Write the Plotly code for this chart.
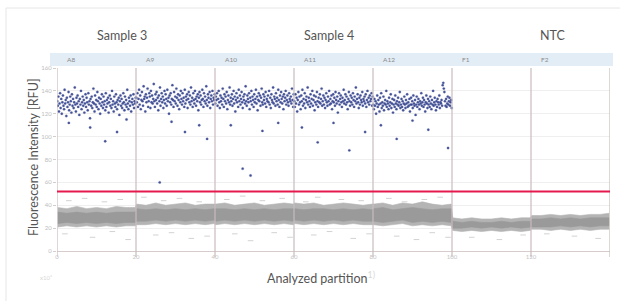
import plotly.graph_objects as go

# ---------------- data ----------------
wells = ["A8", "A9", "A10", "A11", "A12", "F1", "F2"]
well_size = 20                      # partitions (x1000) per well
x_ticks = [0, 20, 40, 60, 80, 100, 120]
x_ticklabels = ["0", "20", "40", "60", "80", "100", "120"]
y_ticks = [0, 20, 40, 60, 80, 100, 120, 140, 160]
groups = ["Sample 3", "Sample 4", "NTC"]
threshold = 52

pos_A8 = "131 127 135 122 129 138 125 133 120 130 136 127 124 141 129 132 118 134 126 130 139 123 128 135 131 121 137 127 133 125 130 143 128 122 134 129 136 126 131 119 133 128 140 124 130 135 127 132 121 129 137 126 134 130 123 138 128 131 116 133 127 135 125 130 142 129 122 136 128 132 126 139 131 124 134 129 120 133 127 137 130 125 135 128 131 123 138 126 132 129 134 121 130 136 127 133 125 140 128 131 122 135 129 126 137 130 124 132 128 134 119 131 136 127 133 125 129 138 130 123 135 128 132 126 141 129 124 134 131 127 136 122 130 133 128 137 125 131 129 134"
pos_A9 = "134 130 138 126 133 141 128 136 124 132 139 131 127 144 133 135 122 137 130 134 142 126 131 138 135 125 140 130 136 129 133 146 131 126 137 132 139 129 134 123 136 131 143 127 133 138 130 135 125 132 140 129 137 133 127 141 131 134 120 136 130 138 128 133 145 132 126 139 131 135 129 142 134 127 137 132 124 136 130 140 133 128 138 131 134 126 141 129 135 132 137 125 133 139 130 136 128 143 131 134 126 138 132 129 140 133 127 135 131 137 123 134 139 130 136 128 132 141 133 126 138 131 135 129 144 132 127 137 134 130 139 125 133 136 131 140 128 134 132 137"
pos_A10 = "129 135 132 138 127 133 140 130 125 136 131 134 128 142 133 126 137 131 135 129 139 124 132 136 130 143 128 134 131 137 127 133 140 129 135 122 132 138 130 134 126 141 131 136 128 133 139 130 125 135 132 137 129 144 131 127 136 133 130 138 124 134 131 140 128 135 132 126 137 130 133 141 129 135 123 132 138 131 136 127 134 142 130 128 137 132 135 129 139 126 133 131 136 130 140 128 134 125 137 132 130 143 129 135 133 127 138 131 134 128 141 132 126 136 130 139 133 129 135 124 137 131 134 140 128 132 136 130 127 138 133 131 135 129 142 132 126 137"
pos_A11 = "131 126 137 129 134 122 132 139 128 135 130 124 136 131 141 127 133 129 138 125 132 135 130 143 128 134 131 126 137 129 133 140 127 132 136 123 130 135 128 139 131 126 134 130 137 129 133 142 127 131 136 128 134 125 132 138 130 127 135 131 140 128 133 129 136 124 131 137 130 134 127 139 132 129 135 121 131 138 128 133 136 130 126 134 131 141 129 132 137 128 135 130 124 133 139 131 127 136 130 134 128 138 132 126 135 131 143 129 133 137 130 125 134 128 136 132 130 139 127 133 131 135 129 137 126 132 140 130 134 128 136 131 133 138 127 135"
pos_A12 = "128 124 133 127 131 120 129 136 126 132 128 122 134 129 138 125 130 127 135 123 129 132 128 140 126 131 129 124 134 127 130 137 125 129 133 121 128 132 126 136 129 124 131 128 134 127 130 139 125 128 133 126 131 123 129 135 128 125 132 129 137 126 130 127 133 122 128 134 128 131 125 136 129 127 132 119 128 135 126 130 133 128 124 131 129 138 127 130 134 126 132 128 122 130 136 129 125 133 128 131 126 135 129 124 132 128 140 127 130 134 128 123 131 126 133 130 128 136 125 130 129 132 127 145 147 142 139 131 127 133 126 129 135 128 131 134 127 130 132 125"
positives = [pos_A8, pos_A9, pos_A10, pos_A11, pos_A12, "", ""]

rain_x = [3, 8.4, 12.2, 15.2, 17.6, 26, 29, 32.4, 36, 38, 44, 47, 49, 52, 56, 62, 66, 70, 74, 78, 82, 86, 90, 94, 99]
rain_y = [112, 108, 96, 104, 115, 60, 113, 104, 110, 98, 110, 72, 66, 105, 112, 108, 95, 112, 88, 104, 110, 98, 114, 106, 90]

band_frac = [0.2, 2.5, 5, 7.5, 10, 12.5, 15, 17.5, 19.8]
outer_hi = [[38, 37, 39, 37, 38, 37, 39, 38, 38], [41, 40, 42, 40, 41, 42, 40, 41, 41],
            [41, 42, 40, 41, 42, 40, 41, 42, 41], [42, 41, 42, 40, 41, 42, 41, 40, 41],
            [41, 42, 40, 42, 41, 43, 41, 40, 41], [29, 28, 29, 28, 28, 29, 28, 29, 29],
            [31, 31, 32, 31, 32, 31, 32, 32, 33]]
outer_lo = [[21, 22, 21, 22, 21, 22, 21, 22, 22], [23, 23, 24, 23, 24, 23, 24, 23, 24],
            [23, 24, 23, 24, 23, 24, 23, 24, 23], [24, 23, 24, 23, 24, 23, 24, 23, 23],
            [23, 22, 23, 24, 22, 23, 22, 23, 22], [18, 17, 18, 17, 18, 17, 18, 17, 18],
            [19, 19, 18, 19, 18, 19, 18, 19, 19]]
core_hi = [[34, 33, 34, 33, 34, 33, 34, 34, 34], [37, 36, 37, 36, 37, 36, 37, 36, 37],
           [37, 37, 36, 37, 36, 37, 36, 37, 37], [37, 36, 37, 37, 36, 37, 36, 37, 36],
           [37, 38, 36, 37, 38, 37, 36, 37, 37], [26, 25, 26, 25, 25, 26, 25, 26, 26],
           [28, 28, 29, 28, 29, 28, 29, 29, 29]]
core_lo = [[24, 25, 24, 25, 24, 25, 24, 25, 25], [26, 26, 27, 26, 27, 26, 27, 26, 27],
           [26, 27, 26, 27, 26, 27, 26, 27, 26], [27, 26, 27, 26, 27, 26, 27, 26, 26],
           [26, 25, 26, 27, 25, 26, 25, 26, 25], [20, 20, 21, 20, 21, 20, 21, 20, 21],
           [21, 21, 21, 22, 21, 22, 21, 22, 22]]

stray_x = [3, 7, 12, 16, 22, 27, 31, 36, 43, 47, 52, 57, 63, 66, 72, 77, 84, 88, 93, 97,
           2, 9, 14, 18, 25, 29, 34, 38, 45, 49, 55, 59, 65, 69, 75, 79, 86, 91, 95, 99,
           105, 112, 118, 124, 131, 137]
stray_y = [44, 46, 43, 45, 47, 44, 46, 43, 45, 48, 44, 46, 43, 47, 45, 44, 46, 43, 45, 47,
           15, 12, 17, 10, 14, 16, 11, 13, 15, 9, 16, 12, 14, 17, 11, 15, 13, 10, 16, 12,
           12, 10, 14, 15, 13, 11]

# ---------------- figure ----------------
W, H = 620, 301
L, R, T, B = 57, 10, 68, 50
pw, ph = W - L - R, H - T - B
def px(x): return (x - L) / pw
def py(y): return (H - B - y) / ph

fig = go.Figure()

def band(lo, hi, color):
    xs, los, his = [], [], []
    for k in range(len(wells)):
        for j, f in enumerate(band_frac):
            xs.append(k * well_size + f)
            los.append(lo[k][j])
            his.append(hi[k][j])
    fig.add_trace(go.Scatter(x=xs, y=los, mode="lines", line=dict(width=0.6, color=color),
                             hoverinfo="skip", showlegend=False))
    fig.add_trace(go.Scatter(x=xs, y=his, mode="lines", line=dict(width=0.6, color=color),
                             fill="tonexty", fillcolor=color, hoverinfo="skip", showlegend=False))

band(outer_lo, outer_hi, "#b4b4b4")
band(core_lo, core_hi, "#9a9a9a")

fig.add_trace(go.Scatter(x=stray_x, y=stray_y, mode="markers",
                         marker=dict(symbol="line-ew", size=4, line=dict(width=1, color="#d2d2d2")),
                         hoverinfo="skip", showlegend=False))

px_x, px_y = [], []
for k, s in enumerate(positives):
    vals = [float(v) for v in s.split()]
    n = len(vals)
    for i, v in enumerate(vals):
        px_x.append(k * well_size + (i + 0.5) * well_size / n)
        px_y.append(v)
fig.add_trace(go.Scatter(x=px_x + rain_x, y=px_y + rain_y, mode="markers",
                         marker=dict(size=2.4, color="#2f3d8a", opacity=0.9,
                                     line=dict(width=0.3, color="#6a76b0")),
                         hoverinfo="skip", showlegend=False))

shapes = []
# card border
shapes.append(dict(type="rect", xref="paper", yref="paper", x0=px(6), x1=px(660),
                   y0=py(340), y1=py(8), line=dict(color="#e6e6e6", width=1), layer="below"))
# header band
shapes.append(dict(type="rect", xref="paper", yref="paper", x0=px(50), x1=px(613),
                   y0=py(66), y1=py(53), fillcolor="#e3edf6", line=dict(width=0), layer="below"))
# separators
for k in range(len(wells) + 1):
    shapes.append(dict(type="line", xref="x", yref="paper", x0=k * well_size, x1=k * well_size,
                       y0=py(257), y1=1, line=dict(color="#c9bdbd", width=1.2)))
# threshold
shapes.append(dict(type="line", xref="paper", yref="y", x0=0, x1=1, y0=threshold, y1=threshold,
                   line=dict(color="#e5194c", width=2)))

ann = []
for k, w in enumerate(wells):
    ann.append(dict(x=k * well_size + 1.9, xref="x", y=py(59.5), yref="paper", text=w,
                    showarrow=False, xanchor="left", yanchor="middle",
                    font=dict(size=6.5, color="#8a8a8a")))
group_px = [122, 329, 553]
for g, gx in zip(groups, group_px):
    ann.append(dict(x=px(gx), xref="paper", y=py(35), yref="paper", text=g, showarrow=False,
                    xanchor="center", yanchor="middle", font=dict(size=12.5, color="#555555")))
ann.append(dict(x=px(33), xref="paper", y=py(157), yref="paper",
                text="Fluorescence Intensity [RFU]", textangle=-90, showarrow=False,
                xanchor="center", yanchor="middle", font=dict(size=12.5, color="#555555")))
ann.append(dict(x=px(321), xref="paper", y=py(277), yref="paper",
                text="Analyzed partition<span style='color:#d8d8d8'><sup>1)</sup></span>",
                showarrow=False, xanchor="center", yanchor="middle",
                font=dict(size=12.5, color="#555555")))
ann.append(dict(x=px(46), xref="paper", y=py(277), yref="paper", text="x10³", showarrow=False,
                xanchor="center", yanchor="middle", font=dict(size=6, color="#d8d8d8")))

fig.update_layout(
    width=W, height=H, margin=dict(l=L, r=R, t=T, b=B),
    paper_bgcolor="white", plot_bgcolor="white",
    font=dict(family="Lato, sans-serif"),
    shapes=shapes, annotations=ann,
    xaxis=dict(range=[0, len(wells) * well_size], tickvals=x_ticks, ticktext=x_ticklabels,
               showgrid=False, zeroline=False, showline=True, linecolor="#d6cccc", linewidth=1.2,
               ticks="", tickfont=dict(size=6, color="#c4c4c4")),
    yaxis=dict(range=[0, 160], tickvals=y_ticks, showgrid=True, gridcolor="#efefef",
               zeroline=False, showline=False, ticks="outside", ticklen=3, tickcolor="#d6cccc",
               tickfont=dict(size=6, color="#bdbdbd")),
)

fig.write_html("out.html", config={"displayModeBar": False},
               post_script="document.body.style.margin='0';")
